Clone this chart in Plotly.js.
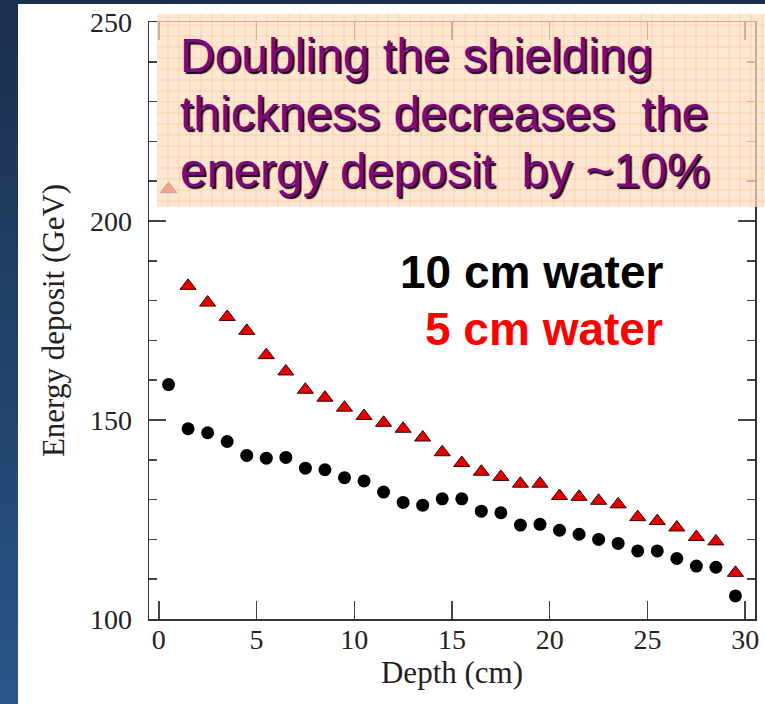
<!DOCTYPE html>
<html>
<head>
<meta charset="utf-8">
<script src="https://cdn.plot.ly/plotly-3.0.1.min.js"></script>
<style>
  html, body { margin: 0; padding: 0; }
  body {
    width: 765px; height: 704px; overflow: hidden; position: relative;
    background: linear-gradient(to bottom, #1b2e4c 0%, #23426a 50%, #2a5688 100%);
  }
  #chart { position: absolute; left: 18px; top: 4px; width: 747px; height: 700px; background: #ffffff; }
</style>
</head>
<body>
<div id="chart"></div>
<script>
// ---- data ----
var depth = [0.5, 1.5, 2.5, 3.5, 4.5, 5.5, 6.5, 7.5, 8.5, 9.5,
             10.5, 11.5, 12.5, 13.5, 14.5, 15.5, 16.5, 17.5, 18.5, 19.5,
             20.5, 21.5, 22.5, 23.5, 24.5, 25.5, 26.5, 27.5, 28.5, 29.5];
var water10cm = [158.9, 147.8, 146.8, 144.6, 141.1, 140.4, 140.6, 137.9, 137.5, 135.5,
                 134.7, 131.9, 129.3, 128.6, 130.2, 130.2, 127.1, 126.7, 123.6, 123.8,
                 122.3, 121.3, 120.0, 119.0, 117.1, 117.1, 115.2, 113.3, 113.0, 105.8];
var water5cm = [208.0, 183.7, 179.5, 175.9, 172.4, 166.3, 162.2, 157.6, 155.6, 153.1,
                151.0, 149.3, 147.8, 145.6, 141.9, 139.2, 137.0, 135.7, 134.0, 134.0,
                130.9, 130.7, 129.7, 128.8, 125.6, 124.6, 123.0, 120.6, 119.5, 111.6];
var seriesNames = ["10 cm water", "5 cm water"];
var xTitle = "Depth (cm)";
var yTitle = "Energy deposit (GeV)";
var noteLines = ["Doubling the shielding",
                 "thickness decreases\u00A0 the",
                 "energy deposit\u00A0 by ~10%"];

// ---- traces ----
var traces = [
  {
    x: depth, y: water10cm, name: seriesNames[0], type: "scatter", mode: "markers",
    marker: { symbol: "circle", size: 13, color: "#000000" },
    showlegend: false
  },
  {
    x: depth, y: water5cm, name: seriesNames[1], type: "scatter", mode: "markers",
    marker: { symbol: "triangle-up", size: 14, color: "#e50000", line: { color: "#3a0000", width: 1 } },
    showlegend: false
  }
];

// decorative grid pattern of the note box (paper coordinates)
var bx0 = 0.0132, bx1 = 1.03, by0 = 0.690, by1 = 1.0134;
var gp = "";
var stepX = 11 / 606, stepY = 11 / 597;
for (var gx = bx0 + stepX; gx < bx1; gx += stepX) gp += "M" + gx.toFixed(4) + "," + by0 + "L" + gx.toFixed(4) + "," + by1;
for (var gy = by1 - stepY; gy > by0; gy -= stepY) gp += "M" + bx0 + "," + gy.toFixed(4) + "L" + bx1 + "," + gy.toFixed(4);

var tickFont = { family: "Liberation Serif, Times New Roman, serif", size: 28, color: "#222222" };
var titleFont = { family: "Liberation Serif, Times New Roman, serif", size: 31, color: "#222222" };
var noteFont = { family: "Liberation Sans, Arial, sans-serif", size: 48, color: "#7d087d", shadow: "2px 2px 1px #140014" };

var layout = {
  width: 747, height: 700,
  margin: { l: 131, r: 10, t: 18, b: 85 },
  paper_bgcolor: "#ffffff", plot_bgcolor: "#ffffff",
  showlegend: false,
  xaxis: {
    range: [-0.5, 30.5], dtick: 5, tick0: 0,
    showgrid: false, zeroline: false,
    showline: true, linecolor: "#333333", linewidth: 1.5, mirror: "ticks",
    ticks: "inside", ticklen: 18, tickwidth: 1.5, tickcolor: "#444444",
    tickfont: tickFont, ticklabelstandoff: -5,
    title: { text: xTitle, font: titleFont, standoff: 0 }
  },
  yaxis: {
    range: [100, 250], dtick: 50, tick0: 100,
    showgrid: false, zeroline: false,
    showline: true, linecolor: "#333333", linewidth: 1.5, mirror: "ticks",
    ticks: "inside", ticklen: 17, tickwidth: 1.5, tickcolor: "#444444",
    minor: { dtick: 10, ticks: "inside", ticklen: 8, tickwidth: 1.5, tickcolor: "#444444", showgrid: false },
    tickfont: tickFont, ticklabelstandoff: 10,
    title: { text: yTitle, font: titleFont, standoff: 16 }
  },
  shapes: [
    { type: "rect", xref: "paper", yref: "paper", x0: bx0, x1: bx1, y0: by0, y1: by1,
      fillcolor: "rgba(253,222,192,0.72)", line: { width: 0 }, layer: "above" },
    { type: "path", xref: "paper", yref: "paper", path: gp,
      line: { color: "rgba(248,180,120,0.4)", width: 1 }, layer: "above" }
  ],
  annotations: [
    { xref: "paper", yref: "paper", x: 0.0479, y: 0.9439, xanchor: "left", yanchor: "middle",
      text: noteLines[0], showarrow: false, font: noteFont },
    { xref: "paper", yref: "paper", x: 0.0479, y: 0.8467, xanchor: "left", yanchor: "middle",
      text: noteLines[1], showarrow: false, font: noteFont },
    { xref: "paper", yref: "paper", x: 0.0479, y: 0.7513, xanchor: "left", yanchor: "middle",
      text: noteLines[2], showarrow: false, font: noteFont },
    { xref: "paper", yref: "paper", x: 0.8515, y: 0.582, xanchor: "right", yanchor: "middle",
      text: "<b>" + seriesNames[0] + "</b>", showarrow: false,
      font: { family: "Liberation Sans, Arial, sans-serif", size: 46, color: "#000000" } },
    { xref: "paper", yref: "paper", x: 0.8515, y: 0.485, xanchor: "right", yanchor: "middle",
      text: "<b>" + seriesNames[1] + "</b>", showarrow: false,
      font: { family: "Liberation Sans, Arial, sans-serif", size: 46, color: "#ff0000" } }
  ]
};

Plotly.newPlot("chart", traces, layout, { displayModeBar: false, staticPlot: true });
</script>
</body>
</html>
